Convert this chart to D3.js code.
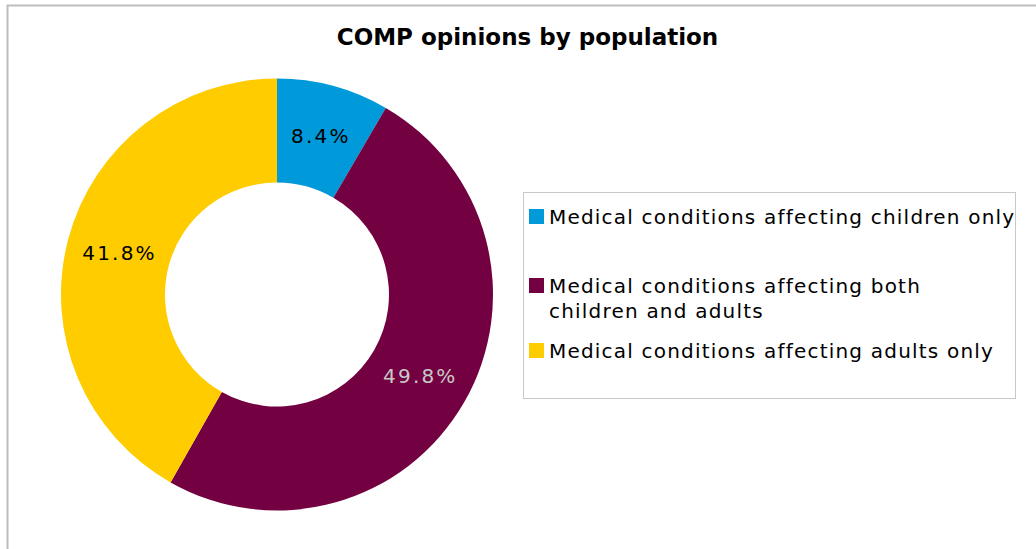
<!DOCTYPE html>
<html><head><meta charset="utf-8">
<script src="https://cdn.jsdelivr.net/npm/d3@7"></script>
<style>body{margin:0;background:#fff;}svg{display:block;}</style>
</head><body>
<script>
const categories = ["Medical conditions affecting children only","Medical conditions affecting both children and adults","Medical conditions affecting adults only"];
const legendLines = [["Medical conditions affecting children only"],["Medical conditions affecting both","children and adults"],["Medical conditions affecting adults only"]];
const values = [8.4, 49.8, 41.8];
const colors = ["#0099D9","#730040","#FFCC00"];
const labelColors = ["#000000","#C8C8C8","#000000"];
const title = "COMP opinions by population";

const W = 1036, H = 549;
const svg = d3.select("body").append("svg").attr("width", W).attr("height", H);
const font = "DejaVu Sans, Verdana, sans-serif";

// outer chart border (left & top visible)
svg.append("path").attr("d", `M7.5,${H} L7.5,5.5 L${W},5.5`).attr("fill","none").attr("stroke","#bdbdbd").attr("stroke-width",2);

svg.append("text").attr("x", 527.5).attr("y", 45).attr("text-anchor","middle")
  .attr("font-family", font).attr("font-weight","bold").attr("font-size", 23)
  .text(title);

const cx = 277, cy = 294.5, R = 216, r = 112;
const pie = d3.pie().sort(null).value(d => d)(values);
const arc = d3.arc().innerRadius(r).outerRadius(R);
const g = svg.append("g").attr("transform", `translate(${cx},${cy})`);
g.selectAll("path").data(pie).join("path").attr("d", arc).attr("fill", (d,i) => colors[i]);
const mid = d3.arc().innerRadius((R+r)/2).outerRadius((R+r)/2);
g.selectAll("text").data(pie).join("text")
  .attr("transform", d => { const c = mid.centroid(d); return `translate(${c[0]+1.1},${c[1]})`; })
  .attr("text-anchor","middle").attr("dy","0.36em")
  .attr("font-family", font).attr("font-size", 20).attr("letter-spacing", 2.2)
  .attr("fill", (d,i) => labelColors[i])
  .text((d,i) => values[i].toFixed(1) + "%");

// legend
svg.append("rect").attr("x", 523.5).attr("y", 192.5).attr("width", 492).attr("height", 206)
  .attr("fill","#fff").attr("stroke","#c8c8c8").attr("stroke-width",1);
const sqY = [209, 278, 343];
legendLines.forEach((lines, i) => {
  svg.append("rect").attr("x", 529).attr("y", sqY[i]).attr("width", 15).attr("height", 15).attr("fill", colors[i]);
  lines.forEach((ln, j) => {
    svg.append("text").attr("x", 549).attr("y", sqY[i] + 14.5 + j*25)
      .attr("font-family", font).attr("font-size", 20).attr("letter-spacing", 1.2).attr("fill","#000").text(ln);
  });
});
</script>
</body></html>
